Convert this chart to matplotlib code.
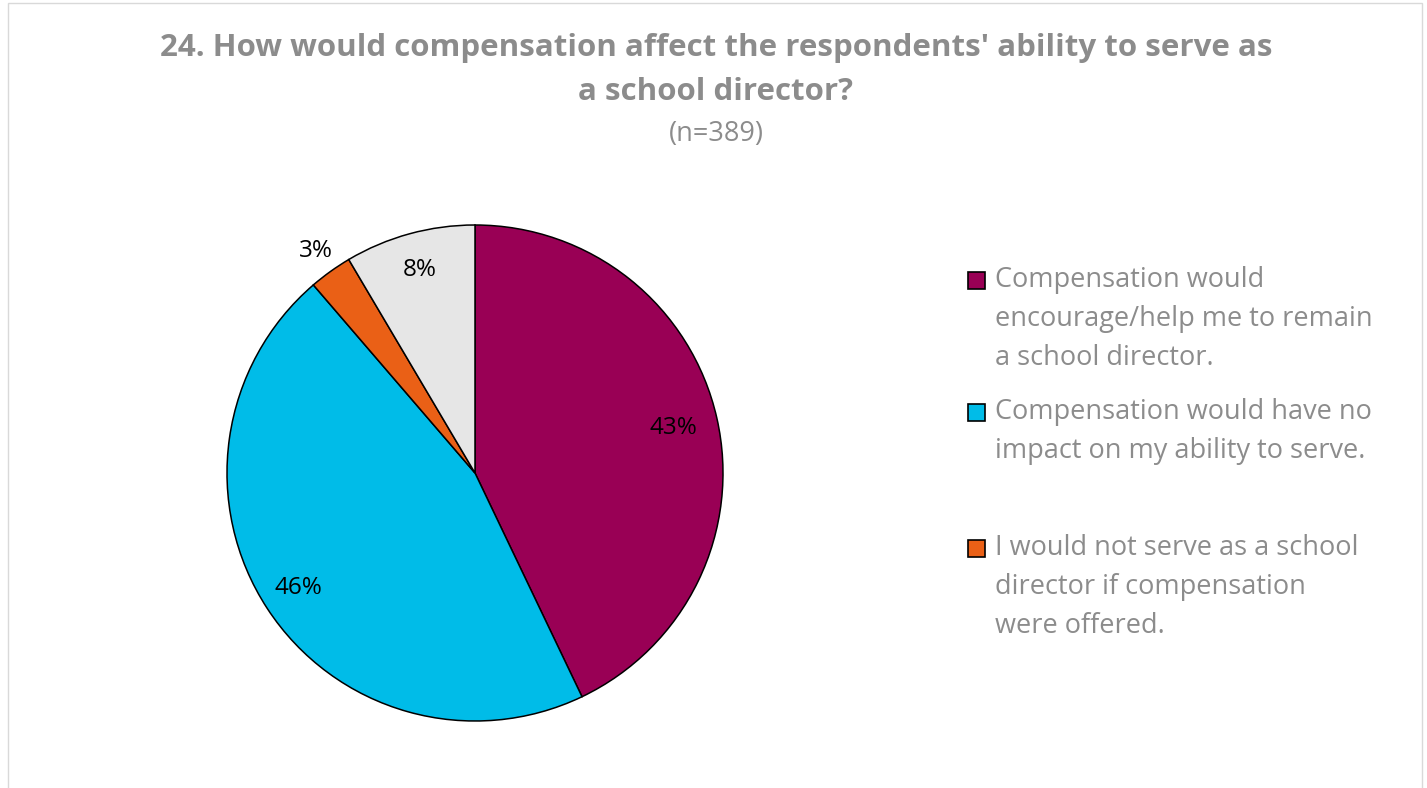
import matplotlib.pyplot as plt
import numpy as np
from matplotlib.patches import Rectangle

plt.rcParams['font.family'] = ['Open Sans', 'DejaVu Sans']

# Data (shares of n=389, in percent)
shares = [42.9, 45.8, 2.8, 8.5]
pct_labels = ['43%', '46%', '3%', '8%']
colors = ['#990055', '#00BCE8', '#EA6016', '#E6E6E6']
legend_labels = [
    'Compensation would\nencourage/help me to remain\na school director.',
    'Compensation would have no\nimpact on my ability to serve.',
    'I would not serve as a school\ndirector if compensation\nwere offered.',
]
title = "24. How would compensation affect the respondents' ability to serve as\na school director?"
subtitle = '(n=389)'

W, H = 1427, 788
fig = plt.figure(figsize=(W / 100, H / 100), dpi=100)
grey = '#8C8C8C'


def fx(px):
    return px / W


def fy(py):
    return 1 - py / H


# chart border
fig.add_artist(Rectangle((fx(8), fy(800)), fx(1414), 797 / H,
                         transform=fig.transFigure, fill=False,
                         edgecolor='#D9D9D9', linewidth=1))

# title
lines = title.split('\n')
fig.text(fx(716), fy(48), lines[0], ha='center', va='center', fontsize=22.5,
         fontweight='bold', color=grey)
fig.text(fx(716), fy(92), lines[1], ha='center', va='center', fontsize=22.5,
         fontweight='bold', color=grey)
fig.text(fx(716), fy(134), subtitle, ha='center', va='center', fontsize=19.5,
         color=grey)

# pie: center (475, 473), radius 248 px
cx, cy, r = 475, 473, 248
ax = fig.add_axes([fx(cx - r), fy(cy + r), 2 * r / W, 2 * r / H])
wedges, _ = ax.pie(shares, colors=colors, startangle=90, counterclock=False,
                   radius=1, wedgeprops=dict(edgecolor='black', linewidth=1.1))
ax.set_xlim(-1, 1)
ax.set_ylim(-1, 1)
ax.set_aspect('equal')
ax.axis('off')

# percentage labels
dists = [0.82, 0.85, 1.1, 0.85]
for w, lab, d in zip(wedges, pct_labels, dists):
    ang = np.deg2rad((w.theta1 + w.theta2) / 2)
    ax.text(d * np.cos(ang), d * np.sin(ang), lab, ha='center', va='center',
            fontsize=17.5, color='black')

# legend
entry_tops = [280, 412, 548]
line_gap = 39
for lab, col, y0 in zip(legend_labels, colors, entry_tops):
    fig.add_artist(Rectangle((fx(968), fy(y0 + 9)), fx(17), 17 / H,
                             transform=fig.transFigure, facecolor=col,
                             edgecolor='black', linewidth=1.2))
    for i, ln in enumerate(lab.split('\n')):
        fig.text(fx(995), fy(y0 + i * line_gap), ln, ha='left', va='center',
                 fontsize=19.5, color=grey)

fig.savefig('out.png', dpi=100)
